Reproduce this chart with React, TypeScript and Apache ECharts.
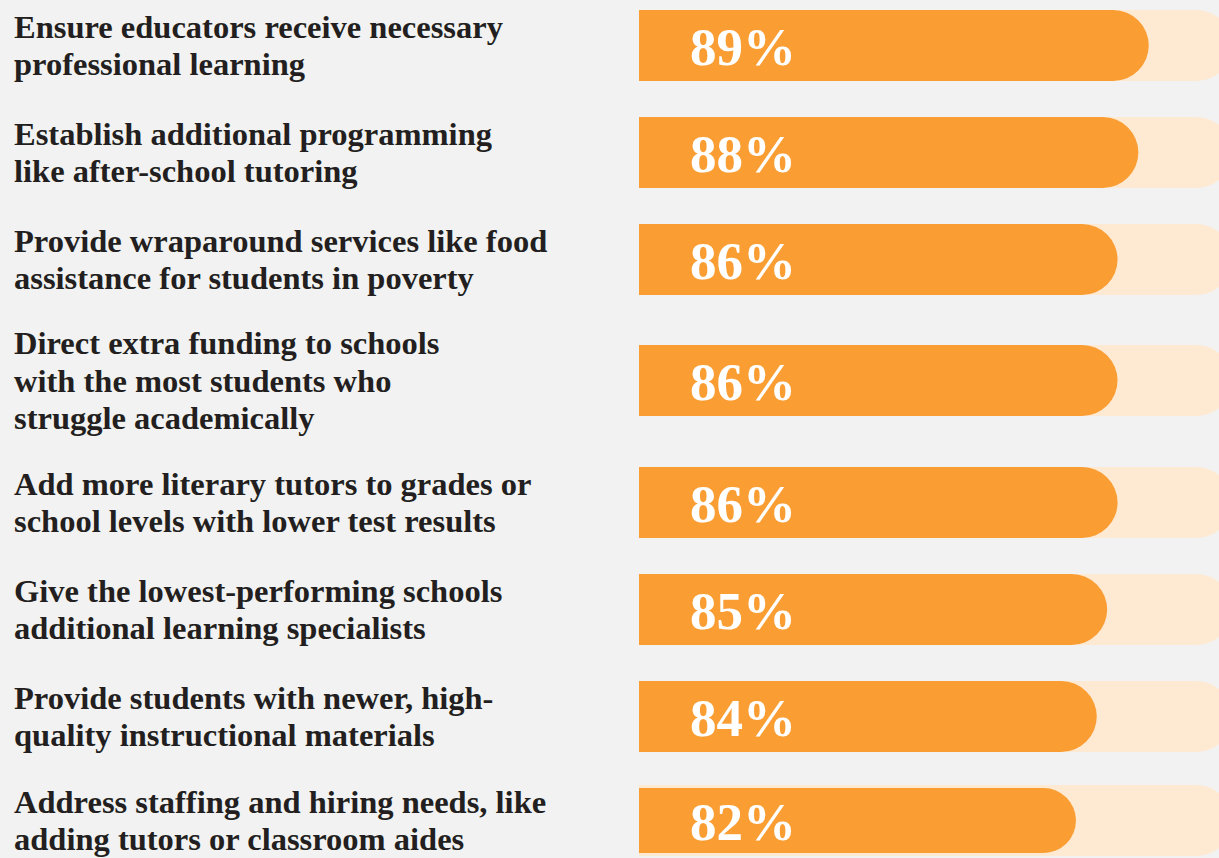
import React, { useEffect, useRef } from "react";
import * as echarts from "echarts";

const categories: string[] = [
  "Ensure educators receive necessary\nprofessional learning",
  "Establish additional programming\nlike after-school tutoring",
  "Provide wraparound services like food\nassistance for students in poverty",
  "Direct extra funding to schools\nwith the most students who\nstruggle academically",
  "Add more literary tutors to grades or\nschool levels with lower test results",
  "Give the lowest-performing schools\nadditional learning specialists",
  "Provide students with newer, high-\nquality instructional materials",
  "Address staffing and hiring needs, like\nadding tutors or classroom aides",
];

const values: number[] = [89, 88, 86, 86, 86, 85, 84, 82];

// layout only: top of each bar row (px)
const rowTops: number[] = [10, 117, 224, 345, 467, 574, 681, 788];

const AXIS_MIN = 40;
const AXIS_MAX = 97;

export default function App() {
  const ref = useRef<HTMLDivElement>(null);

  useEffect(() => {
    if (!ref.current) return;
    const chart = echarts.init(ref.current, undefined, { renderer: "svg" });
    const barH = 71;
    const radius = barH / 2;
    const font = "'Liberation Serif', 'DejaVu Serif', serif";

    const grid = rowTops.map((t) => ({
      left: 639,
      right: 0,
      top: t,
      height: barH,
      containLabel: false,
    }));
    const xAxis = rowTops.map((_, i) => ({
      type: "value" as const,
      gridIndex: i,
      min: AXIS_MIN,
      max: AXIS_MAX,
      show: false,
    }));
    const yAxis = rowTops.map((_, i) => ({
      type: "category" as const,
      gridIndex: i,
      data: [categories[i]],
      axisLine: { show: false },
      axisTick: { show: false },
      splitLine: { show: false },
      axisLabel: {
        show: true,
        align: "left",
        margin: 625,
        fontFamily: font,
        fontWeight: "bold",
        fontSize: 32.5,
        lineHeight: 37.5,
        color: "#231f20",
      },
    }));
    const series = rowTops.map((_, i) => ({
      type: "bar",
      xAxisIndex: i,
      yAxisIndex: i,
      data: [values[i]],
      barWidth: barH,
      showBackground: true,
      backgroundStyle: {
        color: "#fee9d3",
        borderRadius: [0, radius, radius, 0],
      },
      itemStyle: {
        color: "#fa9d33",
        borderRadius: [0, radius, radius, 0],
      },
      label: {
        show: true,
        formatter: "{c}%",
        position: [51, "50%"],
        align: "left",
        verticalAlign: "middle",
        offset: [0, 1],
        color: "#ffffff",
        fontFamily: font,
        fontWeight: "bold",
        fontSize: 53,
      },
    }));

    chart.setOption({
      animation: false,
      backgroundColor: "#f2f2f2",
      grid,
      xAxis,
      yAxis,
      series,
    } as any);

    return () => {
      chart.dispose();
    };
  }, []);

  return (
    <div
      style={{
        position: "fixed",
        left: 0,
        top: 0,
        width: 1219,
        height: 858,
        overflow: "hidden",
        background: "#f2f2f2",
      }}
    >
      <div ref={ref} style={{ width: 1232, height: 858 }} />
    </div>
  );
}
